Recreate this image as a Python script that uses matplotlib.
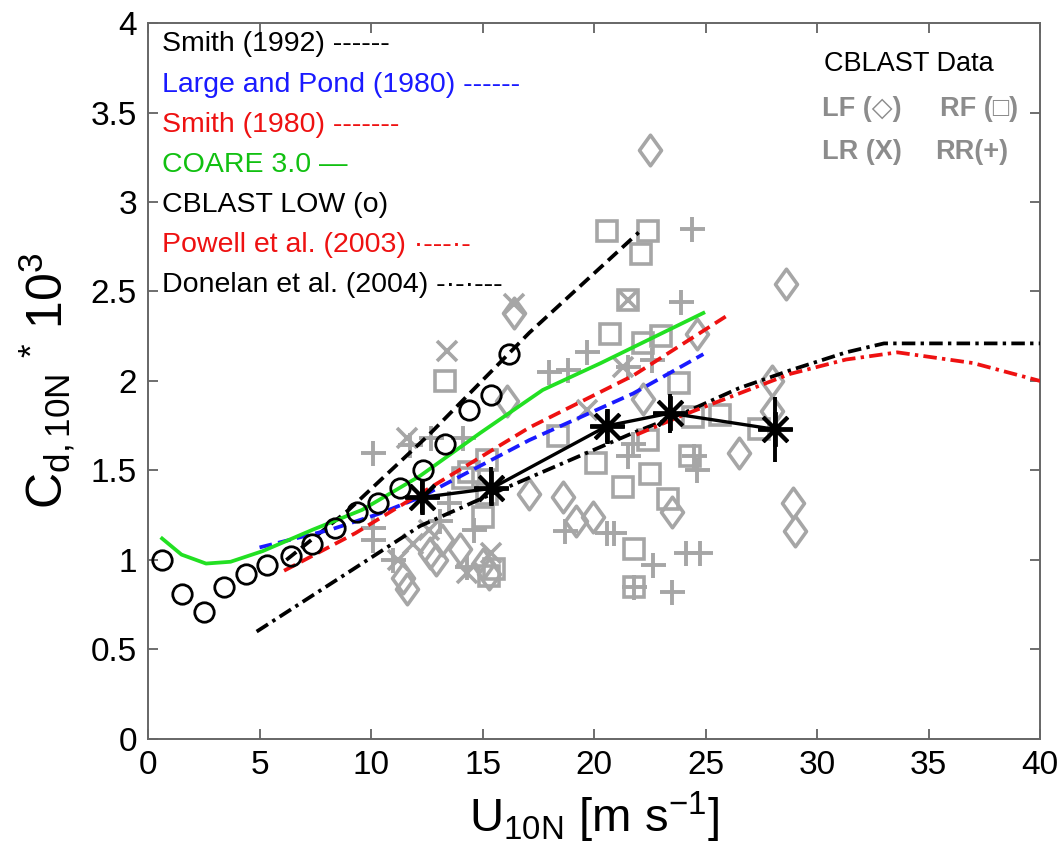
# Drag coefficient vs. 10 m neutral wind speed, bulk formula comparison
# with CBLAST aircraft data (LF, RF, LR, RR) and binned averages.

import matplotlib
matplotlib.use("Agg")
import matplotlib.pyplot as plt
from matplotlib import font_manager
from matplotlib.path import Path

# -----------------------------
# Data
# -----------------------------

smith92_u = [6.2, 9.0, 12.6, 17.1, 22.0]
smith92_cd = [1.00, 1.28, 1.70, 2.27, 2.83]

lp80_u = [5.0, 8.2, 10.4, 12.2, 17.1, 21.75, 24.9]
lp80_cd = [1.07, 1.17, 1.26, 1.35, 1.67, 1.93, 2.15]

smith80_u = [6.1, 9.3, 12.2, 17.1, 21.75, 25.9]
smith80_cd = [0.94, 1.15, 1.37, 1.74, 2.03, 2.36]

coare_u = [0.63, 1.5, 2.6, 3.7, 5.15, 7.4, 9.6, 12.2, 14.9, 17.7, 20.3, 24.9]
coare_cd = [1.12, 1.03, 0.98, 0.99, 1.05, 1.17, 1.28, 1.47, 1.71, 1.95, 2.10, 2.38]

cblast_low_u = [0.63, 1.51, 2.51, 3.41, 4.38, 5.35, 6.4, 7.37, 8.39, 9.36,
                10.33, 11.3, 12.35, 13.3, 14.4, 15.4, 16.2]
cblast_low_cd = [1.00, 0.81, 0.71, 0.85, 0.92, 0.97, 1.02, 1.09, 1.18, 1.27,
                 1.32, 1.40, 1.50, 1.65, 1.84, 1.92, 2.15]

powell_u = [21.9, 24.0, 26.5, 28.8, 31.3, 33.6, 37.0, 40.0]
powell_cd = [1.70, 1.81, 1.93, 2.04, 2.12, 2.16, 2.10, 2.00]

donelan_u = [4.87, 12.2, 15.8, 21.75, 24.0, 26.5, 28.8, 31.3, 33.0, 40.0]
donelan_cd = [0.60, 1.19, 1.39, 1.71, 1.82, 1.96, 2.06, 2.16, 2.21, 2.21]

# binned CBLAST averages with error bars
bin_u = [12.3, 15.4, 20.6, 23.4, 28.1]
bin_cd = [1.35, 1.40, 1.75, 1.82, 1.73]
bin_lo = [1.26, 1.32, 1.66, 1.71, 1.55]
bin_hi = [1.44, 1.52, 1.83, 1.93, 1.91]

# CBLAST flight legs
lf_u = [11.45, 11.6, 12.65, 12.9, 13.2, 14.0, 15.0, 15.3, 16.1, 16.4, 17.1,
        18.6, 19.2, 19.95, 22.2, 22.5, 23.5, 24.6, 26.5, 28.0, 28.0, 28.6,
        28.9, 29.0]
lf_cd = [0.90, 0.84, 1.04, 1.00, 1.11, 1.06, 0.98, 0.92, 1.89, 2.38, 1.37,
         1.35, 1.22, 1.24, 1.90, 3.29, 1.27, 2.26, 1.60, 2.00, 1.83, 2.54,
         1.32, 1.16]

rf_u = [13.3, 14.1, 14.4, 15.2, 15.2, 15.0, 15.5, 15.3, 18.4, 20.1, 20.6,
        20.7, 21.3, 21.5, 21.8, 21.8, 22.1, 22.2, 22.4, 22.4, 22.5, 23.0,
        23.3, 23.8, 24.3, 24.45, 25.65, 27.4]
rf_cd = [2.00, 1.46, 1.49, 1.56, 1.37, 1.24, 0.95, 0.91, 1.69, 1.54, 2.84,
         2.26, 1.41, 2.45, 1.06, 0.85, 2.71, 2.21, 2.84, 1.67, 1.48, 2.25,
         1.34, 1.99, 1.58, 1.80, 1.81, 1.73]

lr_u = [11.2, 11.6, 11.9, 12.6, 13.4, 14.3, 15.4, 16.4, 19.7, 21.3, 21.5]
lr_cd = [1.00, 1.68, 1.09, 1.17, 2.17, 0.93, 1.04, 2.43, 1.84, 2.08, 2.45]

rr_u = [10.1, 10.1, 10.1, 11.0, 11.75, 12.7, 13.1, 13.5, 14.1, 14.3, 14.6,
        18.0, 18.7, 18.85, 19.7, 20.6, 20.9, 21.5, 21.5, 21.75, 21.8, 22.6,
        22.65, 23.5, 23.9, 24.1, 24.4, 24.5, 24.6, 24.75]
rr_cd = [1.60, 1.18, 1.11, 1.00, 1.64, 1.68, 1.22, 1.32, 1.68, 0.96, 1.17,
         2.05, 1.16, 2.06, 2.16, 1.15, 1.15, 2.08, 1.58, 1.65, 0.85, 2.12,
         0.97, 0.82, 2.44, 1.04, 2.85, 1.58, 1.50, 1.04]

legend_lines = [
    ("Smith (1992) ------", "black"),
    ("Large and Pond (1980) ------", "#1a1aff"),
    ("Smith (1980) -------", "#ee1111"),
    ("COARE 3.0 \u2014", "#11c011"),
    ("CBLAST LOW (o)", "black"),
    ("Powell et al. (2003) \u00b7---\u00b7-", "#ee1111"),
    ("Donelan et al. (2004) -\u00b7-\u00b7---", "black"),
]

# -----------------------------
# Fonts
# -----------------------------

names = {f.name for f in font_manager.fontManager.ttflist}
narrow = "Liberation Sans Narrow" if "Liberation Sans Narrow" in names else "Liberation Sans"
plt.rcParams["font.family"] = ["Liberation Sans", "DejaVu Sans"]
plt.rcParams["mathtext.fontset"] = "custom"
plt.rcParams["mathtext.rm"] = narrow
plt.rcParams["mathtext.it"] = narrow

GRAY = "#a6a6a6"
tall_diamond = Path([(0, 1), (0.72, 0), (0, -1), (-0.72, 0), (0, 1)],
                    [Path.MOVETO, Path.LINETO, Path.LINETO, Path.LINETO, Path.CLOSEPOLY])

# -----------------------------
# Plot
# -----------------------------

fig = plt.figure(figsize=(10.62, 8.65), dpi=100)
ax = fig.add_axes([0.1394, 0.1457, 0.840, 0.8277])

# gray flight-leg scatter
ax.plot(lf_u, lf_cd, ls="none", marker=tall_diamond, ms=22, mfc="none",
        mec=GRAY, mew=2.6, zorder=2)
ax.plot(rf_u, rf_cd, ls="none", marker="s", ms=14, mfc="none",
        mec=GRAY, mew=2.6, zorder=2)
ax.plot(lr_u, lr_cd, ls="none", marker="x", ms=14, mec=GRAY, mew=2.6, zorder=2)
ax.plot(rr_u, rr_cd, ls="none", marker="+", ms=18, mec=GRAY, mew=2.8, zorder=2)

# bulk formulas
lw = 2.7
ax.plot(smith92_u, smith92_cd, color="black", lw=lw, ls=(0, (3.4, 1.7)), zorder=3)
ax.plot(lp80_u, lp80_cd, color="#1a1aff", lw=lw, ls=(0, (3.4, 1.7)), zorder=3)
ax.plot(smith80_u, smith80_cd, color="#ee1111", lw=lw, ls=(0, (3.4, 1.7)), zorder=3)
ax.plot(coare_u, coare_cd, color="#22e022", lw=lw, zorder=3)
ax.plot(donelan_u, donelan_cd, color="black", lw=lw, ls=(0, (3.6, 1.4, 0.9, 1.4)), zorder=3)
ax.plot(powell_u, powell_cd, color="#ee1111", lw=lw, ls=(0, (3.6, 1.4, 0.9, 1.4)), zorder=3)

ax.plot(cblast_low_u, cblast_low_cd, ls="none", marker="o", ms=14, mfc="none",
        mec="black", mew=2.0, zorder=4)

# binned averages
yerr = [[c - lo for c, lo in zip(bin_cd, bin_lo)],
        [hi - c for c, hi in zip(bin_cd, bin_hi)]]
ax.errorbar(bin_u, bin_cd, yerr=yerr, color="black", lw=2.4, elinewidth=2.8,
            capsize=0, marker=(8, 2, 0), ms=25, mew=2.8, zorder=5)

# text legend
for i, (txt, col) in enumerate(legend_lines):
    ax.text(0.63, 3.88 - 0.224 * i, txt, color=col, fontsize=20.5,
            ha="left", va="center", zorder=6)

ax.text(30.3, 3.77, "CBLAST Data", color="black", fontsize=19.5,
        ha="left", va="center")
ax.text(30.2, 3.52, "LF (\u25c7)", color="#8c8c8c", fontsize=19.5, fontweight="bold",
        ha="left", va="center", family=["Liberation Sans", "DejaVu Sans"])
ax.text(35.5, 3.52, "RF (\u25a1)", color="#8c8c8c", fontsize=19.5, fontweight="bold",
        ha="left", va="center", family=["Liberation Sans", "DejaVu Sans"])
ax.text(30.2, 3.28, "LR (X)", color="#8c8c8c", fontsize=19.5, fontweight="bold",
        ha="left", va="center")
ax.text(35.3, 3.28, "RR(+)", color="#8c8c8c", fontsize=19.5, fontweight="bold",
        ha="left", va="center")

ax.set_xlim(0, 40)
ax.set_ylim(0, 4)
ax.set_xticks(range(0, 41, 5))
ax.set_yticks([0, 0.5, 1, 1.5, 2, 2.5, 3, 3.5, 4])
ax.set_yticklabels(["0", "0.5", "1", "1.5", "2", "2.5", "3", "3.5", "4"])
ax.tick_params(direction="in", length=7, width=1.2, top=True, right=True,
               labelsize=24, colors="#555555", labelcolor="black", pad=8)
for lab in ax.get_xticklabels() + ax.get_yticklabels():
    lab.set_family(narrow)
for sp in ax.spines.values():
    sp.set_color("#666666")
    sp.set_linewidth(1.4)

ax.set_xlabel(r"$\mathrm{U_{10N}\ [m\ s^{-1}]}$", fontsize=34, labelpad=6)
ax.set_ylabel(r"$\mathrm{C_{d,10N}\ ^{*}\ 10^{3}}$", fontsize=36, labelpad=10)

fig.savefig("out.png", dpi=100)
